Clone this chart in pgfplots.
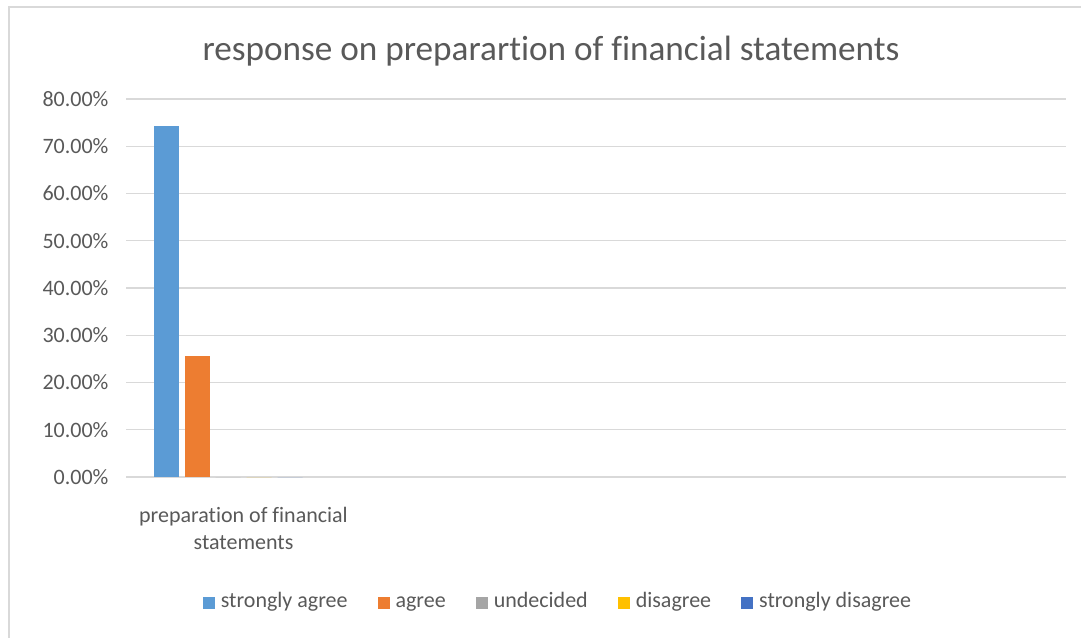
\documentclass[border=0pt]{standalone}
\usepackage{pgfplots}
\pgfplotsset{compat=1.18}
\usepackage{fontspec}
\setmainfont{Carlito}[Ligatures={NoCommon}]
\definecolor{txt}{HTML}{595959}
\definecolor{gridc}{HTML}{D9D9D9}
\definecolor{sa}{HTML}{5B9BD5}
\definecolor{ag}{HTML}{ED7D31}
\definecolor{un}{HTML}{A5A5A5}
\definecolor{di}{HTML}{FFC000}
\definecolor{sd}{HTML}{4472C4}
\begin{document}
\begin{tikzpicture}
\path[use as bounding box] (0pt,0pt) rectangle (1081pt,-637pt);
\draw[gridc, line width=1.2pt] (9pt,-660pt) -- (9pt,-7pt) -- (1100pt,-7pt);
\node[anchor=base, text=txt, font=\fontsize{35.2}{40}\selectfont] at (551pt,-60pt)
  {response on preparartion of financial statements};
\begin{axis}[
  at={(126pt,-477pt)}, anchor=south west,
  scale only axis, width=940pt, height=378pt,
  xmin=0, xmax=4, ymin=0, ymax=80,
  ytick={0,10,...,80},
  xtick={0.5},
  xticklabels={{preparation of financial\\statements}},
  xticklabel style={align=center, text=txt, font=\fontsize{22}{27}\selectfont, yshift=-22pt},
  yticklabel={\pgfmathprintnumber[fixed,fixed zerofill,precision=2]{\tick}\%},
  yticklabel style={text=txt, font=\fontsize{22}{26}\selectfont, xshift=-14pt},
  /pgf/number format/assume math mode=true,
  axis line style={draw=none},
  major tick style={draw=none},
  ymajorgrids, grid style={gridc, line width=1.3pt},
  ybar, bar width=25pt,
  legend columns=-1,
  legend style={at={(0.4585,-0.333)}, anchor=center, draw=none, fill=none,
    font=\fontsize{22}{26}\selectfont, text=txt,
    nodes={text height=15pt, text depth=5pt, inner xsep=0pt},
    /tikz/every odd column/.append style={column sep=6pt},
    /tikz/every even column/.append style={column sep=30pt}},
  legend image code/.code={\fill[#1] (0pt,-6pt) rectangle (12pt,6pt);},
]
\addplot[fill=sa, draw=none, bar shift=-77.5pt] coordinates {(0.5,74.29)};
\addplot[fill=ag, draw=none, bar shift=-46.5pt] coordinates {(0.5,25.71)};
\addplot[fill=un, draw=none, bar shift=-15.5pt] coordinates {(0.5,0)};
\addplot[fill=di, draw=none, bar shift=15.5pt] coordinates {(0.5,0)};
\addplot[fill=sd, draw=none, bar shift=46.5pt] coordinates {(0.5,0)};
\legend{strongly agree, agree, undecided, disagree, strongly disagree}
\end{axis}
\end{tikzpicture}
\end{document}
